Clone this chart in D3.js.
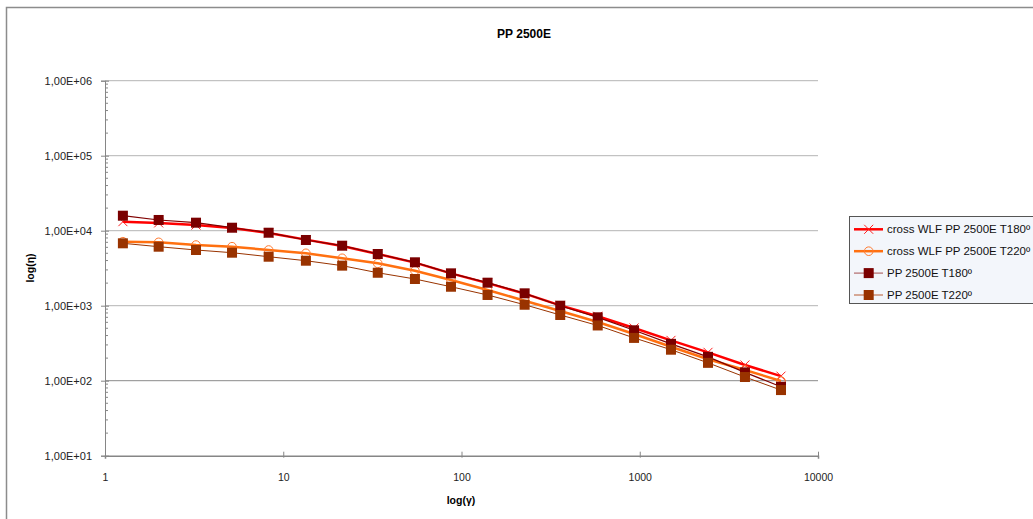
<!DOCTYPE html>
<html>
<head>
<meta charset="utf-8">
<script src="https://cdn.jsdelivr.net/npm/d3@7"></script>
<style>
  body { margin: 0; background: #fff; }
  text { font-family: "Liberation Sans", Arial, sans-serif; }
</style>
</head>
<body>
<svg class="chart"></svg>
<script>
// shear rate (1/s) and viscosity (Pa.s)
var shearRate = [1.26, 2.0, 3.24, 5.16, 8.28, 13.4, 21.4, 33.9, 54.8, 87.3, 140, 226, 358, 581, 929, 1497, 2415, 3892, 6200];
var cross180 = [13200, 12700, 11900, 10900, 9300, 7600, 6250, 4900, 3750, 2700, 2000, 1450, 1010, 723, 505, 345, 239, 162, 115];
var cross220 = [7130, 7000, 6440, 6120, 5530, 5000, 4290, 3670, 2930, 2200, 1620, 1166, 849, 607, 420, 284, 193, 139, 99];
var pp180 = [15850, 13900, 12790, 10960, 9400, 7520, 6310, 4890, 3790, 2700, 2027, 1462, 1000, 700, 470, 310, 208, 129, 83];
var pp220 = [6790, 6120, 5530, 5090, 4500, 3980, 3420, 2750, 2270, 1790, 1390, 1030, 752, 545, 372, 259, 173, 112, 75];

var seriesNames = ["cross WLF PP 2500E T180º", "cross WLF PP 2500E T220º", "PP 2500E T180º", "PP 2500E T220º"];
var xTicks = [1, 10, 100, 1000, 10000];
var xTickLabels = ["1", "10", "100", "1000", "10000"];
var yTicks = [10, 100, 1000, 10000, 100000, 1000000];
var yTickLabels = ["1,00E+01", "1,00E+02", "1,00E+03", "1,00E+04", "1,00E+05", "1,00E+06"];

var svgWidth = 1033,
    svgHeight = 519;
var plotLeft = 105, plotRight = 818, plotTop = 80.7, plotBottom = 455.7;

var svg = d3.select(".chart")
      .attr("width", svgWidth)
      .attr("height", svgHeight);

// outer chart frame
svg.append("rect")
      .attr("x", 6.5).attr("y", 7.5)
      .attr("width", svgWidth + 20).attr("height", svgHeight + 20)
      .attr("fill", "#fff")
      .attr("stroke", "#8c8c8c")
      .attr("stroke-width", 1.5);

var x = d3.scaleLog().domain([1, 10000]).range([plotLeft, plotRight]);
var y = d3.scaleLog().domain([10, 1000000]).range([plotBottom, plotTop]);

// horizontal gridlines
svg.selectAll(".grid")
      .data(yTicks.slice(1))
      .enter()
      .append("line")
      .attr("x1", plotLeft).attr("x2", plotRight)
      .attr("y1", function(d) { return y(d); })
      .attr("y2", function(d) { return y(d); })
      .attr("stroke", function(d) { return d == 100 ? "#8a8a8a" : "#b4b4b4"; })
      .attr("stroke-width", 1);

// y axis
var yAxis = svg.append("g")
      .attr("transform", "translate(" + plotLeft + ",0)")
      .call(d3.axisLeft(y).tickValues(yTicks).tickSize(4).tickPadding(9)
        .tickFormat(function(d, i) { return yTickLabels[i]; }));
yAxis.select(".domain").attr("stroke", "#868686");
yAxis.selectAll(".tick line").attr("stroke", "#868686").attr("x2", -4).attr("x1", 4);
yAxis.selectAll(".tick text").attr("font-size", "11px").attr("fill", "#222")
      .attr("font-family", "Liberation Sans, Arial, sans-serif");

// minor ticks inside
var minor = [];
yTicks.slice(0, -1).forEach(function(d) {
  for (var k = 2; k < 10; k++) minor.push(d * k);
});
svg.selectAll(".minor")
      .data(minor)
      .enter()
      .append("line")
      .attr("x1", plotLeft).attr("x2", plotLeft + 3)
      .attr("y1", function(d) { return y(d); })
      .attr("y2", function(d) { return y(d); })
      .attr("stroke", "#868686");

// x axis
var xAxis = svg.append("g")
      .attr("transform", "translate(0," + plotBottom + ")")
      .call(d3.axisBottom(x).tickValues(xTicks).tickSize(3).tickPadding(15)
        .tickFormat(function(d, i) { return xTickLabels[i]; }));
xAxis.select(".domain").attr("stroke", "#868686").attr("stroke-width", 1.5);
xAxis.selectAll(".tick line").attr("stroke", "#868686").attr("y1", -4).attr("y2", 2);
xAxis.selectAll(".tick text").attr("font-size", "10.5px").attr("fill", "#222")
      .attr("font-family", "Liberation Sans, Arial, sans-serif");

// titles
svg.append("text")
      .attr("x", 524).attr("y", 38)
      .attr("text-anchor", "middle")
      .attr("font-size", "12px").attr("font-weight", "bold")
      .text("PP 2500E");
svg.append("text")
      .attr("x", 461).attr("y", 504)
      .attr("text-anchor", "middle")
      .attr("font-size", "10.5px").attr("font-weight", "bold")
      .text("log(γ)");
svg.append("text")
      .attr("transform", "translate(34,268) rotate(-90)")
      .attr("text-anchor", "middle")
      .attr("font-size", "10.5px").attr("font-weight", "bold")
      .text("log(η)");

var line = d3.line()
      .x(function(d) { return x(d[0]); })
      .y(function(d) { return y(d[1]); });

function pairs(vals) {
  return shearRate.map(function(s, i) { return [s, vals[i]]; });
}

var series = [
  { values: cross180, line: "#ff0000", width: 2.5, marker: "x", color: "#ff2020" },
  { values: cross220, line: "#ff7010", width: 2.5, marker: "o", color: "#ff7a30" },
  { values: pp180, line: "#800000", width: 1.2, marker: "s", color: "#7a0000" },
  { values: pp220, line: "#993300", width: 1, marker: "s", color: "#993300" }
];

function drawMarker(g, type, color, px, py) {
  if (type == "x") {
    g.append("path")
      .attr("d", "M" + (px - 4.5) + "," + (py - 4.5) + "L" + (px + 4.5) + "," + (py + 4.5) +
                 "M" + (px + 4.5) + "," + (py - 4.5) + "L" + (px - 4.5) + "," + (py + 4.5))
      .attr("stroke", color).attr("stroke-width", 1).attr("fill", "none");
  } else if (type == "o") {
    g.append("circle")
      .attr("cx", px).attr("cy", py).attr("r", 4.3)
      .attr("stroke", color).attr("stroke-width", 1).attr("fill", "none");
  } else {
    g.append("rect")
      .attr("x", px - 5).attr("y", py - 5)
      .attr("width", 10).attr("height", 10)
      .attr("fill", color);
  }
}

series.forEach(function(s) {
  var g = svg.append("g");
  g.append("path")
      .datum(pairs(s.values))
      .attr("d", line)
      .attr("fill", "none")
      .attr("stroke", s.line)
      .attr("stroke-width", s.width);
  pairs(s.values).forEach(function(p) {
    drawMarker(g, s.marker, s.color, x(p[0]), y(p[1]));
  });
});

// legend
var legend = svg.append("g");
legend.append("rect")
      .attr("x", 849.5).attr("y", 216.5)
      .attr("width", 220).attr("height", 87)
      .attr("fill", "#f3f6fb")
      .attr("stroke", "#555")
      .attr("stroke-width", 1);
series.forEach(function(s, i) {
  var ly = 229.3 + i * 21.9;
  legend.append("line")
      .attr("x1", 854).attr("x2", 883)
      .attr("y1", ly).attr("y2", ly)
      .attr("stroke", i == 2 ? "#b06a6a" : (i == 3 ? "#b85a30" : s.line))
      .attr("stroke-width", s.width);
  drawMarker(legend, s.marker, s.color, 868.7, ly);
  legend.append("text")
      .attr("x", 887).attr("y", ly + 4)
      .attr("font-size", "11.5px")
      .attr("fill", "#111")
      .text(seriesNames[i]);
});
</script>
</body>
</html>
